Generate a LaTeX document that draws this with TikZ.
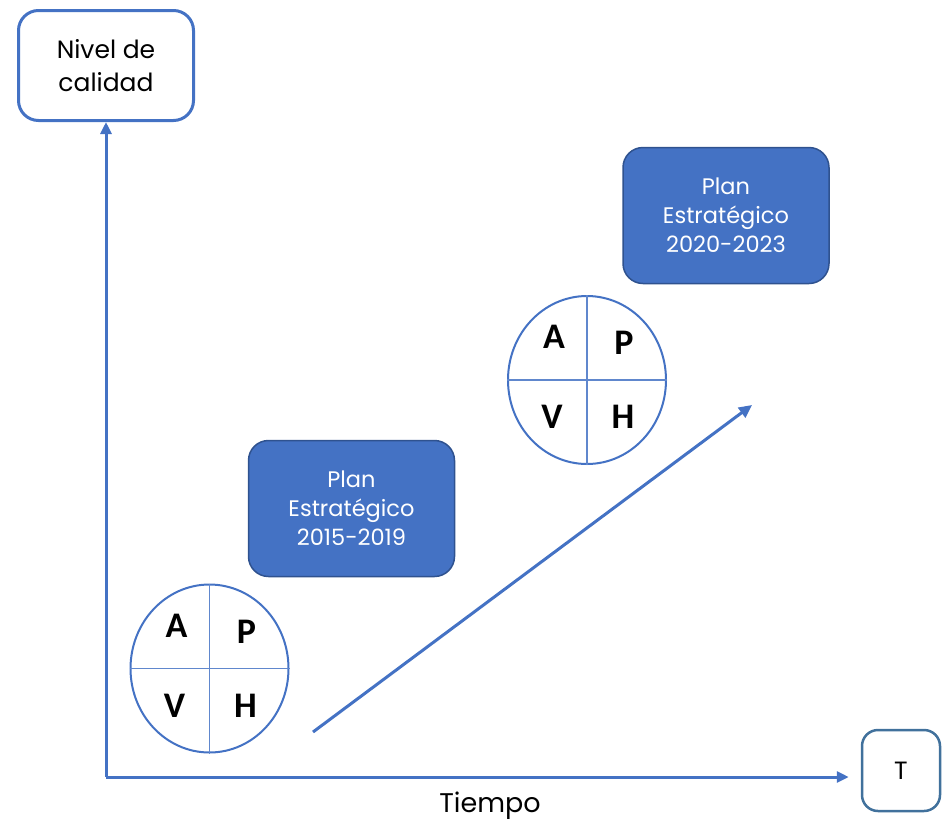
\documentclass[tikz,border=0pt]{standalone}
\usepackage{fontspec}
\setmainfont{Poppins}
\newfontfamily\letterfont{Carlito}
\usetikzlibrary{arrows.meta,shapes.geometric}
\definecolor{axisblue}{HTML}{4472C4}
\definecolor{darkblue}{HTML}{2F528F}
\definecolor{tblue}{HTML}{41719C}
\tikzset{
  labelbox/.style={draw=axisblue, line width=3pt, rounded corners=20pt, fill=white,
    minimum width=175pt, minimum height=110pt, align=center, inner sep=0pt,
    font=\fontsize{25}{33}\selectfont},
  tbox/.style={draw=tblue, line width=2.5pt, rounded corners=16pt, fill=white,
    minimum width=78pt, minimum height=81pt, font=\fontsize{25}{25}\selectfont},
  planbox/.style={draw=darkblue, line width=1.5pt, fill=axisblue, rounded corners=20pt,
    minimum width=206pt, minimum height=136pt, align=center, text=white, inner sep=0pt,
    font=\fontsize{22.5}{29}\selectfont},
  axis/.style={draw=axisblue, line width=3pt, -{Triangle[length=12pt,width=11pt]}},
  growth/.style={draw=axisblue, line width=3pt, -{Triangle[length=13pt,width=12pt]}},
  letter/.style={font=\letterfont\bfseries\fontsize{36}{36}\selectfont, inner sep=0pt},
  pdca/.pic={
    \node[ellipse, draw=axisblue, line width=2pt, fill=white, minimum width=158pt,
      minimum height=168pt, inner sep=0pt] (-c) at (0,0) {};
    \draw[axisblue!85, line width=1.3pt] (-c.north) -- (-c.south);
    \draw[axisblue!85, line width=1.3pt] (-c.west) -- (-c.east);
    \node[letter] (-a) at (-33,-43) {A};
    \node[letter] (-p) at (37,-37) {P};
    \node[letter] (-v) at (-35,37) {V};
    \node[letter] (-h) at (36,37) {H};
  }
}
\begin{document}
\begin{tikzpicture}[x=1pt,y=-1pt]
\useasboundingbox (0,0) rectangle (943,823);
\node[labelbox] (nivel) at (106,65.5) {Nivel de\\calidad};
\node[tbox] (t) at (901,770.5) {T};
\coordinate (origin) at (106,777);
\draw[axis] (origin) -- (nivel.south);
\draw[axis, shorten >=12pt] (origin) -- (origin -| t.west);
\node[font=\fontsize{27}{30}\selectfont] (tiempo) at (490,806) {Tiempo};
\node[planbox] (plan1) at (351.5,508.5) {Plan\\Estratégico\\2015-2019};
\node[planbox] (plan2) at (726,215.5) {Plan\\Estratégico\\2020-2023};
\pic (c1) at (209.5,668.5) {pdca};
\pic (c2) at (587,380) {pdca};
\coordinate (g1) at (313,732);
\coordinate (g2) at (752,405);
\draw[growth] (g1) -- (g2);
\end{tikzpicture}
\end{document}
